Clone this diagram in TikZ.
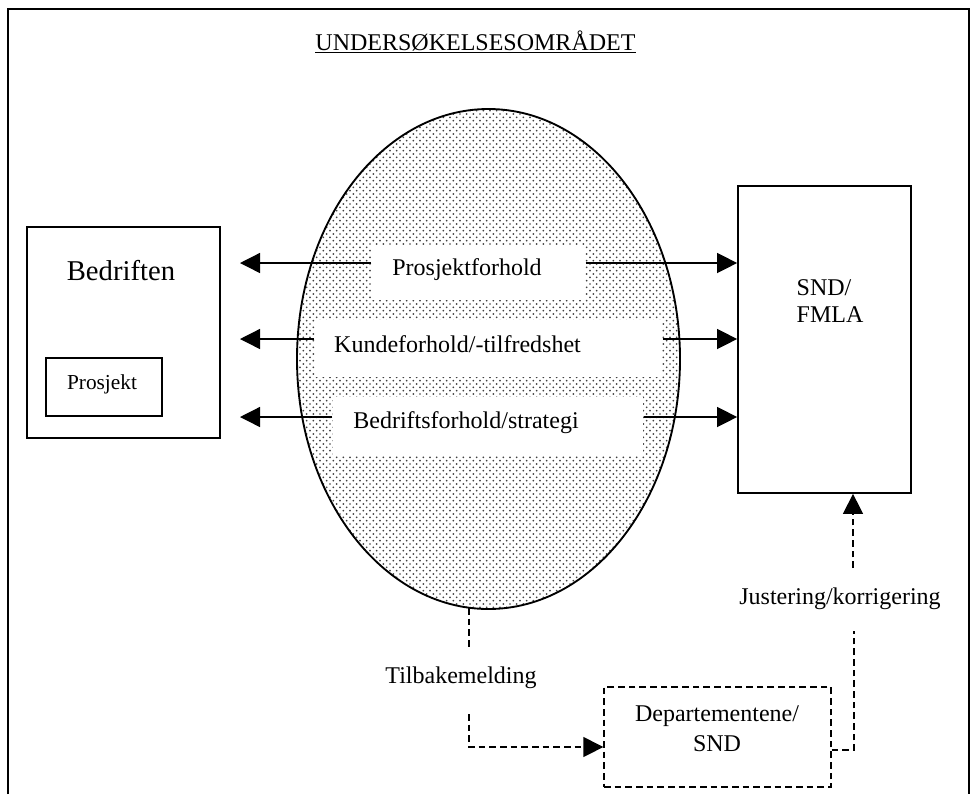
\documentclass[tikz,border=0pt]{standalone}
\usepackage{fontspec}
\setmainfont{Liberation Serif}
\usetikzlibrary{arrows.meta, patterns, shapes.geometric}

\pgfdeclarepatternformonly{raster}{\pgfqpoint{-1pt}{-1pt}}{\pgfqpoint{6pt}{6pt}}{\pgfqpoint{5pt}{5pt}}{%
  \pgfpathcircle{\pgfqpoint{0pt}{0pt}}{0.7pt}%
  \pgfpathcircle{\pgfqpoint{2.5pt}{2.5pt}}{0.7pt}%
  \pgfusepath{fill}}

\begin{document}
\begin{tikzpicture}[x=0.75pt, y=-0.75pt, line width=1pt,
    every node/.style={font=\fontsize{18}{20}\selectfont},
    ramme/.style={draw, line width=1pt, inner sep=0pt},
    hvit/.style={fill=white, inner sep=0pt},
    pil/.style={-{Triangle[length=15pt, width=15pt]}},
    stiplet/.style={dash pattern=on 5pt off 3pt}]
    \useasboundingbox (0,0) rectangle (977,794);
    \draw[line width=1.3pt] (8,794) -- (8,9) -- (969,9) -- (969,794);
    \node[anchor=base](tittel) at (475.5,50) {\underline{UNDERSØKELSESOMRÅDET}};

    \node[ellipse, draw, line width=1.4pt, inner sep=0pt, pattern=raster, pattern color=black!75,
          minimum width=287.25pt, minimum height=375pt](omr) at (488.5,359) {};

    \node[hvit, minimum width=159.75pt, minimum height=40.5pt](pfbox) at (478.5,273) {};
    \node[hvit, minimum width=260.25pt, minimum height=42.75pt](kfbox) at (488.5,348.5) {};
    \node[hvit, minimum width=232.5pt, minimum height=43.5pt](bfbox) at (488,426) {};
    \node[anchor=base](pf) at (467,275) {Prosjektforhold};
    \node[anchor=base](kf) at (457.5,352) {Kundeforhold/-tilfredshet};
    \node[anchor=base](bf) at (466,428) {Bedriftsforhold/strategi};

    \node[ramme, minimum width=144.75pt, minimum height=158.25pt](bedrift) at (123.5,332.5) {};
    \node[anchor=base, font=\fontsize{21.5}{24}\selectfont](bedriftnavn) at (121,280) {Bedriften};
    \node[ramme, minimum width=87pt, minimum height=43.5pt](prosjekt) at (104,387) {};
    \node[anchor=base, font=\fontsize{16}{19}\selectfont](prosjektnavn) at (102,389) {Prosjekt};

    \node[ramme, line width=1.3pt, minimum width=129.75pt, minimum height=230.25pt](snd) at (824.5,339.5) {};
    \node[anchor=north west, inner sep=0pt, align=left](sndnavn) at (796,279) {SND/\\FMLA};

    \node[ramme, stiplet, minimum width=170.25pt, minimum height=75pt](dep) at (717.5,737) {};
    \node[anchor=north, inner sep=0pt, align=center, font=\fontsize{18}{22.5}\selectfont](depnavn) at (717,705) {Departementene/\\SND};

    \coordinate(pfv) at (240,263);
    \coordinate(kfv) at (240,339);
    \coordinate(bfv) at (240,417);
    \draw[pil] (pfbox.west |- pfv) -- (pfv);
    \draw[pil] (kfbox.west |- kfv) -- (kfv);
    \draw[pil] (bfbox.west |- bfv) -- (bfv);
    \draw[pil] (pfbox.east |- pfv) -- (snd.west |- pfv);
    \draw[pil] (kfbox.east |- kfv) -- (snd.west |- kfv);
    \draw[pil] (bfbox.east |- bfv) -- (snd.west |- bfv);

    \coordinate(tb1) at (469,608);
    \coordinate(tb2) at (469,650);
    \coordinate(tb3) at (469,714);
    \coordinate(tb4) at (469,747);
    \node[anchor=base](tilbake) at (461,683) {Tilbakemelding};
    \draw[stiplet] (tb1) -- (tb2);
    \draw[stiplet, pil] (tb3) -- (tb4) -- (dep.west |- tb4);

    \coordinate(ju1) at (854,750);
    \coordinate(ju2) at (854,631);
    \coordinate(ju3) at (853,568);
    \node[anchor=base](juster) at (840,604) {Justering/korrigering};
    \draw[stiplet] (dep.east |- ju1) -- (ju1) -- (ju2);
    \draw[stiplet, pil] (ju3) -- (snd.south -| ju3);
\end{tikzpicture}
\end{document}
